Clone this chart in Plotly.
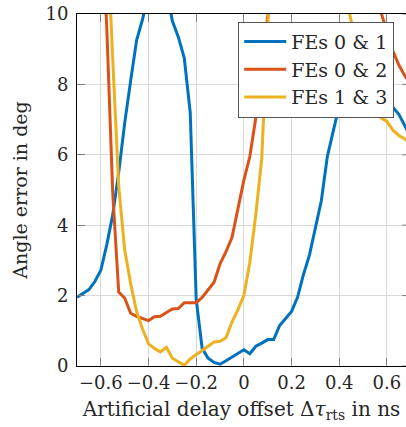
import plotly.graph_objects as go

# Artificial delay offset (ns)
delay_offset = [
    -0.7, -0.675, -0.65, -0.625, -0.6, -0.575, -0.55, -0.525, -0.5, -0.475,
    -0.45, -0.425, -0.4, -0.375, -0.35, -0.325, -0.3, -0.275, -0.25, -0.225,
    -0.2, -0.175, -0.15, -0.125, -0.1, -0.075, -0.05, -0.025, 0.0, 0.025,
    0.05, 0.075, 0.1, 0.125, 0.15, 0.175, 0.2, 0.225, 0.25, 0.275,
    0.3, 0.325, 0.35, 0.375, 0.4, 0.425, 0.45, 0.475, 0.5, 0.525,
    0.55, 0.575, 0.6, 0.625, 0.65, 0.675, 0.7,
]

# Angle error (deg) per front-end pair
fes_0_1 = [
    1.95, 2.05, 2.17, 2.4, 2.72, 3.45, 4.3, 5.5, 6.9, 8.1,
    9.25, 9.85, 10.6, 11.0, 11.1, 10.7, 9.8, 9.35, 8.75, 7.2,
    1.9, 0.5, 0.22, 0.1, 0.05, 0.15, 0.25, 0.36, 0.46, 0.35,
    0.56, 0.65, 0.75, 0.75, 1.15, 1.35, 1.55, 1.95, 2.6, 3.15,
    3.9, 4.7, 5.95, 6.7, 7.4, 7.9, 8.25, 8.5, 8.6, 8.55,
    8.35, 8.05, 7.7, 7.35, 7.15, 6.8, 6.5,
]
fes_0_2 = [
    18.0, 17.0, 16.0, 14.5, 13.0, 9.6, 4.9, 2.1, 1.93, 1.5,
    1.41, 1.35, 1.29, 1.4, 1.41, 1.52, 1.62, 1.63, 1.8, 1.8,
    1.8, 1.95, 2.15, 2.38, 2.9, 3.25, 3.65, 4.45, 5.28, 5.95,
    7.05, 8.5, 10.2, 11.6, 12.8, 13.7, 14.3, 14.7, 14.9, 14.9,
    14.7, 14.4, 14.0, 13.5, 13.0, 12.5, 12.0, 11.6, 11.2, 10.8,
    10.45, 10.05, 9.5, 8.95, 8.55, 8.25, 8.0,
]
fes_1_3 = [
    20.0, 19.0, 18.0, 16.5, 15.0, 12.5, 8.7, 5.1, 3.3, 2.34,
    1.55, 1.05, 0.63, 0.5, 0.4, 0.53, 0.22, 0.12, 0.02, 0.2,
    0.32, 0.45, 0.55, 0.68, 0.7, 0.8, 1.25, 1.6, 2.0, 2.95,
    4.3, 5.9, 9.7, 12.0, 13.5, 14.5, 15.2, 15.6, 15.7, 15.6,
    15.2, 14.5, 13.6, 12.6, 11.6, 10.6, 9.8, 9.1, 8.5, 7.9,
    7.35, 7.05, 6.95, 6.7, 6.55, 6.45, 6.3,
]

series_names = ["FEs 0 &amp; 1", "FEs 0 &amp; 2", "FEs 1 &amp; 3"]
series_colors = ["#0072BD", "#D95319", "#EDB120"]

x_ticks = [-0.6, -0.4, -0.2, 0, 0.2, 0.4, 0.6]
x_tick_text = ["\u22120.6", "\u22120.4", "\u22120.2", "0", "0.2", "0.4", "0.6"]
y_ticks = [0, 2, 4, 6, 8, 10]

FONT = "DejaVu Serif"
TEXT = "#262626"

fig = go.Figure()
for name, vals, col in zip(series_names, [fes_0_1, fes_0_2, fes_1_3], series_colors):
    fig.add_trace(go.Scatter(
        x=delay_offset, y=vals, mode="lines", name=name,
        line=dict(color=col, width=3),
    ))

axis_common = dict(
    showgrid=True, gridcolor="#d9d9d9", gridwidth=1.2,
    zeroline=False, showline=True, linecolor="black", linewidth=1,
    ticks="inside", ticklen=8, tickcolor="#808080", tickwidth=1,
    tickfont=dict(family=FONT, size=18, color=TEXT),
)

fig.update_layout(
    width=406, height=427,
    margin=dict(l=77, r=0, t=14, b=61),
    paper_bgcolor="white", plot_bgcolor="white",
    font=dict(family=FONT, size=18, color=TEXT),
    xaxis=dict(
        range=[-0.7, 0.68], tickvals=x_ticks, ticktext=x_tick_text,
        mirror="ticks",
        title=dict(text="Artificial delay offset \u0394<i>\u03c4</i><sub>rts</sub> in ns",
                   font=dict(family=FONT, size=20, color=TEXT), standoff=10),
        **axis_common,
    ),
    yaxis=dict(
        range=[0, 10], tickvals=y_ticks, ticklabelstandoff=4,
        title=dict(text="Angle error in deg",
                   font=dict(family=FONT, size=19, color=TEXT), standoff=12),
        **axis_common,
    ),
    legend=dict(
        x=0.49, y=0.978, xanchor="left", yanchor="top",
        bgcolor="white", bordercolor="#555", borderwidth=1,
        font=dict(family=FONT, size=19, color=TEXT),
        itemwidth=42, tracegroupgap=0,
    ),
    showlegend=True,
)

# inward tick marks of the right-hand frame edge
for v in y_ticks:
    fig.add_shape(type="line", xref="paper", yref="y",
                  x0=1 - 4 / 329, x1=1, y0=v, y1=v,
                  line=dict(color="#808080", width=1))

fig.write_html("out.html")
